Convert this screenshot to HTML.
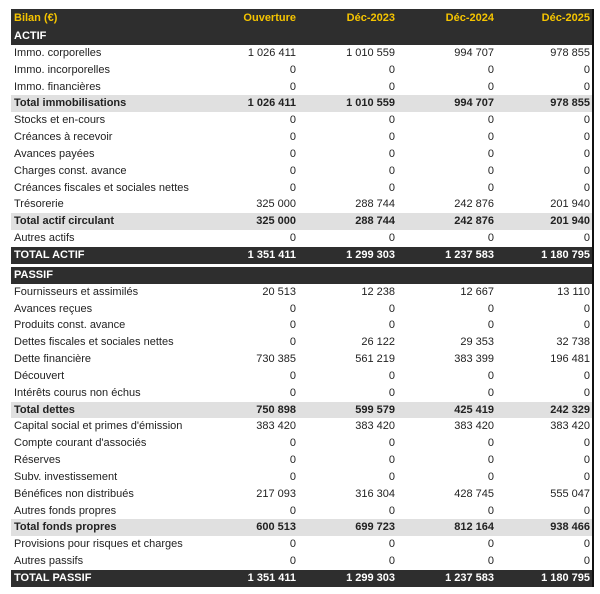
<!DOCTYPE html><html><head><style>
body{margin:0;background:#fff;width:600px;height:594px;overflow:hidden;font-family:"Liberation Sans",sans-serif;font-size:11px;color:#222}
.w{position:absolute;left:11px;top:9px;width:581px;border-right:2px solid #111}
.r{position:relative;height:16.85px;line-height:16.85px;white-space:nowrap}
.r span{position:absolute;top:0}
.r .l{left:3px}
.c1{right:296px}.c2{right:197px}.c3{right:98px}.c4{right:2px}
.h{background:#2e2e2e;color:#f5c400;font-weight:bold;height:19px;line-height:19px}
.s{background:#2e2e2e;color:#fff;font-weight:bold}
.t{background:#e0e0e0;font-weight:bold}
.T{background:#2e2e2e;color:#fff;font-weight:bold}
.g{height:3px}
</style></head><body><div class="w">
<div class="r h"><span class="l">Bilan (€)</span><span class="c1">Ouverture</span><span class="c2">Déc-2023</span><span class="c3">Déc-2024</span><span class="c4">Déc-2025</span></div>
<div class="r s"><span class="l">ACTIF</span></div>
<div class="r"><span class="l">Immo. corporelles</span><span class="c1">1 026 411</span><span class="c2">1 010 559</span><span class="c3">994 707</span><span class="c4">978 855</span></div>
<div class="r"><span class="l">Immo. incorporelles</span><span class="c1">0</span><span class="c2">0</span><span class="c3">0</span><span class="c4">0</span></div>
<div class="r"><span class="l">Immo. financières</span><span class="c1">0</span><span class="c2">0</span><span class="c3">0</span><span class="c4">0</span></div>
<div class="r t"><span class="l">Total immobilisations</span><span class="c1">1 026 411</span><span class="c2">1 010 559</span><span class="c3">994 707</span><span class="c4">978 855</span></div>
<div class="r"><span class="l">Stocks et en-cours</span><span class="c1">0</span><span class="c2">0</span><span class="c3">0</span><span class="c4">0</span></div>
<div class="r"><span class="l">Créances à recevoir</span><span class="c1">0</span><span class="c2">0</span><span class="c3">0</span><span class="c4">0</span></div>
<div class="r"><span class="l">Avances payées</span><span class="c1">0</span><span class="c2">0</span><span class="c3">0</span><span class="c4">0</span></div>
<div class="r"><span class="l">Charges const. avance</span><span class="c1">0</span><span class="c2">0</span><span class="c3">0</span><span class="c4">0</span></div>
<div class="r"><span class="l">Créances fiscales et sociales nettes</span><span class="c1">0</span><span class="c2">0</span><span class="c3">0</span><span class="c4">0</span></div>
<div class="r"><span class="l">Trésorerie</span><span class="c1">325 000</span><span class="c2">288 744</span><span class="c3">242 876</span><span class="c4">201 940</span></div>
<div class="r t"><span class="l">Total actif circulant</span><span class="c1">325 000</span><span class="c2">288 744</span><span class="c3">242 876</span><span class="c4">201 940</span></div>
<div class="r"><span class="l">Autres actifs</span><span class="c1">0</span><span class="c2">0</span><span class="c3">0</span><span class="c4">0</span></div>
<div class="r T"><span class="l">TOTAL ACTIF</span><span class="c1">1 351 411</span><span class="c2">1 299 303</span><span class="c3">1 237 583</span><span class="c4">1 180 795</span></div>
<div class="g"></div>
<div class="r s"><span class="l">PASSIF</span></div>
<div class="r"><span class="l">Fournisseurs et assimilés</span><span class="c1">20 513</span><span class="c2">12 238</span><span class="c3">12 667</span><span class="c4">13 110</span></div>
<div class="r"><span class="l">Avances reçues</span><span class="c1">0</span><span class="c2">0</span><span class="c3">0</span><span class="c4">0</span></div>
<div class="r"><span class="l">Produits const. avance</span><span class="c1">0</span><span class="c2">0</span><span class="c3">0</span><span class="c4">0</span></div>
<div class="r"><span class="l">Dettes fiscales et sociales nettes</span><span class="c1">0</span><span class="c2">26 122</span><span class="c3">29 353</span><span class="c4">32 738</span></div>
<div class="r"><span class="l">Dette financière</span><span class="c1">730 385</span><span class="c2">561 219</span><span class="c3">383 399</span><span class="c4">196 481</span></div>
<div class="r"><span class="l">Découvert</span><span class="c1">0</span><span class="c2">0</span><span class="c3">0</span><span class="c4">0</span></div>
<div class="r"><span class="l">Intérêts courus non échus</span><span class="c1">0</span><span class="c2">0</span><span class="c3">0</span><span class="c4">0</span></div>
<div class="r t"><span class="l">Total dettes</span><span class="c1">750 898</span><span class="c2">599 579</span><span class="c3">425 419</span><span class="c4">242 329</span></div>
<div class="r"><span class="l">Capital social et primes d'émission</span><span class="c1">383 420</span><span class="c2">383 420</span><span class="c3">383 420</span><span class="c4">383 420</span></div>
<div class="r"><span class="l">Compte courant d'associés</span><span class="c1">0</span><span class="c2">0</span><span class="c3">0</span><span class="c4">0</span></div>
<div class="r"><span class="l">Réserves</span><span class="c1">0</span><span class="c2">0</span><span class="c3">0</span><span class="c4">0</span></div>
<div class="r"><span class="l">Subv. investissement</span><span class="c1">0</span><span class="c2">0</span><span class="c3">0</span><span class="c4">0</span></div>
<div class="r"><span class="l">Bénéfices non distribués</span><span class="c1">217 093</span><span class="c2">316 304</span><span class="c3">428 745</span><span class="c4">555 047</span></div>
<div class="r"><span class="l">Autres fonds propres</span><span class="c1">0</span><span class="c2">0</span><span class="c3">0</span><span class="c4">0</span></div>
<div class="r t"><span class="l">Total fonds propres</span><span class="c1">600 513</span><span class="c2">699 723</span><span class="c3">812 164</span><span class="c4">938 466</span></div>
<div class="r"><span class="l">Provisions pour risques et charges</span><span class="c1">0</span><span class="c2">0</span><span class="c3">0</span><span class="c4">0</span></div>
<div class="r"><span class="l">Autres passifs</span><span class="c1">0</span><span class="c2">0</span><span class="c3">0</span><span class="c4">0</span></div>
<div class="r T"><span class="l">TOTAL PASSIF</span><span class="c1">1 351 411</span><span class="c2">1 299 303</span><span class="c3">1 237 583</span><span class="c4">1 180 795</span></div>
</div></body></html>
